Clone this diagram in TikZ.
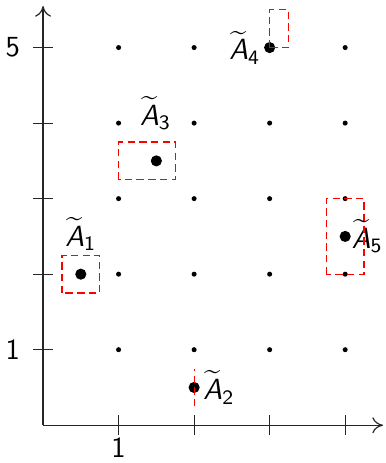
\documentclass[tikz,border=0pt]{standalone}
\usepackage{amsmath,amssymb}
\usepackage{xcolor}
\usepackage{tikz}
\usetikzlibrary{positioning, arrows.meta}

\newcommand{\tA}[1]{$\widetilde{\text{\itshape A}}_{\text{#1}}$}

\begin{document}
\begin{tikzpicture}[
    font=\fontsize{11}{13}\selectfont\sffamily,
    axis/.style={-{To[length=4pt,width=6pt]}, line width=0.45pt, black!85},
    tick/.style={line width=0.4pt, black!85},
    gridpt/.style={circle, fill=black, inner sep=0pt, minimum size=1.9pt},
    bigpt/.style={circle, fill=black, inner sep=0pt, minimum size=4.2pt},
    region/.style={red, dash pattern=on 2.8pt off 1.6pt, line width=0.45pt},
    lbl/.style={inner sep=1pt}
]
\useasboundingbox (-0.57,-0.5) rectangle (4.54,5.63);

% Axes
\coordinate (O) at (0,0);
\coordinate (xend) at (4.5,0);
\coordinate (yend) at (0,5.55);
\draw[axis] (O) -- (xend);
\draw[axis] (O) -- (yend);
\foreach \i in {1,...,4} \draw[tick] (\i,-0.13) -- (\i,0.13);
\foreach \j in {1,...,5} \draw[tick] (-0.13,\j) -- (0.13,\j);
\node (x1) at (1,-0.3) {1};
\node (y1) at (-0.4,1) {1};
\node (y5) at (-0.4,5) {5};

% Grid
\foreach \i in {1,...,4}
  \foreach \j in {1,...,5}
    \node[gridpt] (g\i\j) at (\i,\j) {};

% Nodes
\node[bigpt] (a1) at (0.5,2) {};
\node[bigpt] (a2) at (2,0.5) {};
\node[bigpt] (a3) at (1.5,3.5) {};
\node[bigpt] (a4) at (3,5) {};
\node[bigpt] (a5) at (4,2.5) {};

\node[lbl] (l1) at (0.5,2.53) {\tA{1}};
\node[lbl, right=0pt of a2] (l2) {\tA{2}};
\node[lbl] (l3) at (1.49,4.13) {\tA{3}};
\node[lbl, left=0pt of a4] (l4) {\tA{4}};
\node[lbl, right=-1pt of a5] (l5) {\tA{5}};

% Regions
\draw[region] (0.25,1.75) rectangle (0.75,2.25);
\draw[region] (2,0.25) -- (2,0.75);
\draw[region] (1,3.25) rectangle (1.75,3.75);
\draw[region] (3,5) rectangle (3.25,5.5);
\draw[region] (3.75,2) rectangle (4.25,3);

\end{tikzpicture}
\end{document}
